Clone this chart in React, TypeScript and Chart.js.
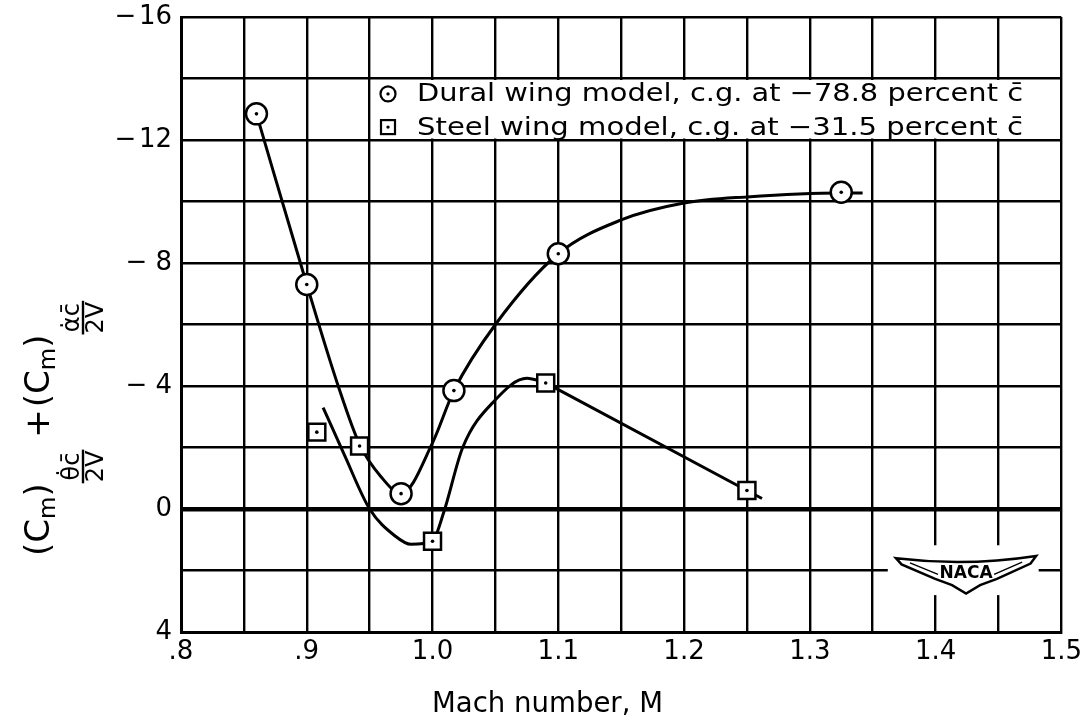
import React, { useEffect, useRef } from "react";
import { Chart, registerables } from "chart.js";

Chart.register(...registerables);

// ---- data ----
const duralMach = [0.86, 0.9, 0.975, 1.017, 1.1, 1.325];
const duralDamping = [-12.85, -7.3, -0.5, -3.85, -8.3, -10.3];

const steelMach = [0.908, 0.942, 1.0, 1.09, 1.25];
const steelDamping = [-2.5, -2.05, 1.05, -4.1, -0.6];

// faired curves as drawn in the reference
const duralFairMach = [0.86, 0.9, 0.925, 0.942, 0.959, 0.975, 1.0, 1.017, 1.05, 1.1, 1.15, 1.2, 1.25, 1.325, 1.342];
const duralFairValue = [-12.85, -7.3, -4.0, -2.1, -1.05, -0.5, -2.15, -3.85, -6.0, -8.3, -9.4, -9.95, -10.15, -10.28, -10.28];

const steelFairMach = [0.913, 0.93, 0.95, 0.97, 0.983, 1.0, 1.009, 1.024, 1.05, 1.075, 1.09];
const steelFairValue = [-3.3, -1.75, 0, 0.87, 1.15, 1.03, 0.1, -2.0, -3.55, -4.25, -4.1];

const steelLineMach = [1.09, 1.25, 1.262];
const steelLineValue = [-4.1, -0.6, -0.34];

const machTicks = [0.8, 0.9, 1.0, 1.1, 1.2, 1.3, 1.4, 1.5];
const machTickLabels = [".8", ".9", "1.0", "1.1", "1.2", "1.3", "1.4", "1.5"];
const dampTicks = [-16, -12, -8, -4, 0, 4];
const dampTickLabels = ["\u2212\u200a16", "\u2212\u200a12", "\u2212 8", "\u2212 4", "0", "4"];

const legendLabels = [
  "Dural wing model, c.g. at \u221278.8 percent c\u0304",
  "Steel wing model, c.g. at \u221231.5 percent c\u0304",
];
const xTitle = "Mach number, M";
const logoText = "NACA";

const FONT = '"DejaVu Sans", "Liberation Sans", sans-serif';

const pts = (xs: number[], ys: number[]) => xs.map((x, i) => ({ x, y: ys[i] }));

function findLabel(ticks: number[], labels: string[], v: number) {
  for (let i = 0; i < ticks.length; i++) if (Math.abs(ticks[i] - v) < 1e-6) return labels[i];
  return "";
}

const decorPlugin = {
  id: "decor",
  beforeDatasetsDraw(chart: any) {
    const { ctx, scales, chartArea } = chart;
    const xs = scales.x;
    const ys = scales.y;
    ctx.save();
    // legend box
    const bx0 = xs.getPixelForValue(0.95) + 1.3;
    const bx1 = chartArea.right - 1.5;
    const by0 = ys.getPixelForValue(-14) + 1.5;
    const by1 = ys.getPixelForValue(-12) - 1.5;
    ctx.fillStyle = "#fff";
    ctx.fillRect(bx0, by0, bx1 - bx0, by1 - by0);
    // logo white area
    const lx0 = xs.getPixelForValue(1.362);
    const lx1 = xs.getPixelForValue(1.482);
    const ly0 = ys.getPixelForValue(1.18);
    const ly1 = ys.getPixelForValue(2.8);
    ctx.fillRect(lx0, ly0, lx1 - lx0, ly1 - ly0);
    ctx.restore();
  },
  afterDraw(chart: any) {
    const { ctx, scales } = chart;
    const xs = scales.x;
    const ys = scales.y;
    ctx.save();
    ctx.fillStyle = "#000";
    ctx.strokeStyle = "#000";

    // legend rows
    const rows = [-13.5, -12.42];
    const mx = 388;
    const tx = 417;
    const target = 606;
    ctx.font = `25px ${FONT}`;
    ctx.textBaseline = "middle";
    rows.forEach((v, i) => {
      const y = ys.getPixelForValue(v);
      ctx.lineWidth = 2.2;
      if (i === 0) {
        ctx.beginPath();
        ctx.arc(mx, y, 7.5, 0, Math.PI * 2);
        ctx.stroke();
      } else {
        ctx.strokeRect(mx - 7, y - 7, 14, 14);
      }
      ctx.beginPath();
      ctx.arc(mx, y, 1.7, 0, Math.PI * 2);
      ctx.fill();
      const w = ctx.measureText(legendLabels[i]).width;
      ctx.save();
      ctx.translate(tx, y + 1);
      ctx.scale(target / w, 1);
      ctx.fillText(legendLabels[i], 0, 0);
      ctx.restore();
    });

    // NACA logo
    const L = xs.getPixelForValue(1.3685);
    const R = xs.getPixelForValue(1.48);
    const T = ys.getPixelForValue(1.5);
    const B = ys.getPixelForValue(2.75);
    const W = R - L;
    const H = B - T;
    ctx.lineWidth = 2.5;
    ctx.beginPath();
    ctx.moveTo(L, T + 0.08 * H);
    ctx.quadraticCurveTo(L + 0.5 * W, T + 0.3 * H, R, T + 0.02 * H);
    ctx.lineTo(R - 0.04 * W, T + 0.22 * H);
    ctx.lineTo(L + 0.72 * W, T + 0.62 * H);
    ctx.lineTo(L + 0.6 * W, T + 0.78 * H);
    ctx.lineTo(L + 0.5 * W, B);
    ctx.lineTo(L + 0.4 * W, T + 0.78 * H);
    ctx.lineTo(L + 0.28 * W, T + 0.62 * H);
    ctx.lineTo(L + 0.04 * W, T + 0.24 * H);
    ctx.closePath();
    ctx.stroke();
    ctx.lineWidth = 1.4;
    ctx.beginPath();
    ctx.moveTo(L + 0.1 * W, T + 0.2 * H);
    ctx.lineTo(L + 0.3 * W, T + 0.5 * H);
    ctx.moveTo(R - 0.1 * W, T + 0.18 * H);
    ctx.lineTo(R - 0.3 * W, T + 0.5 * H);
    ctx.stroke();
    ctx.font = `bold 17px ${FONT}`;
    ctx.textAlign = "center";
    ctx.textBaseline = "middle";
    ctx.fillText(logoText, L + 0.5 * W, T + 0.47 * H);

    // x title
    ctx.font = `28px ${FONT}`;
    ctx.textAlign = "left";
    ctx.textBaseline = "alphabetic";
    const xw = ctx.measureText(xTitle).width;
    ctx.save();
    ctx.translate(432, 712);
    ctx.scale(231 / xw, 1);
    ctx.fillText(xTitle, 0, 0);
    ctx.restore();

    // y title (rotated)
    ctx.save();
    ctx.translate(49, 556);
    ctx.rotate(-Math.PI / 2);
    ctx.textAlign = "left";
    ctx.textBaseline = "alphabetic";
    let x = 0;
    const big = `34px ${FONT}`;
    const sub = `23px ${FONT}`;
    const fr = `24px ${FONT}`;
    const txt = (s: string, font: string, dy: number) => {
      ctx.font = font;
      ctx.fillText(s, x, dy);
      x += ctx.measureText(s).width;
    };
    const frac = (num: string, den: string) => {
      ctx.font = fr;
      const w = Math.max(ctx.measureText(num).width, ctx.measureText(den).width) + 2;
      const bar = 34;
      ctx.textAlign = "center";
      ctx.fillText(num, x + w / 2, bar - 4);
      ctx.textBaseline = "top";
      ctx.fillText(den, x + w / 2, bar + 2);
      ctx.textBaseline = "alphabetic";
      ctx.textAlign = "left";
      ctx.fillRect(x, bar - 1.2, w, 2.4);
      x += w;
    };
    txt("(C", big, 0);
    txt("m", sub, 6);
    txt(")", big, 0);
    frac("\u03b8\u0307c\u0304", "2V");
    x += 12;
    txt("+", big, 0);
    x += 2;
    txt("(C", big, 0);
    txt("m", sub, 6);
    txt(")", big, 0);
    frac("\u03b1\u0307c\u0304", "2V");
    ctx.restore();

    ctx.restore();
  },
};

export default function App() {
  const ref = useRef<HTMLCanvasElement | null>(null);
  useEffect(() => {
    if (!ref.current) return;
    const black = "#000";
    const chart = new Chart(ref.current, {
      type: "line",
      data: {
        datasets: [
          {
            data: pts(duralFairMach, duralFairValue),
            borderColor: black,
            borderWidth: 3,
            pointRadius: 0,
            cubicInterpolationMode: "monotone",
            order: 5,
          } as any,
          {
            data: pts(steelFairMach, steelFairValue),
            borderColor: black,
            borderWidth: 3,
            pointRadius: 0,
            cubicInterpolationMode: "monotone",
            order: 5,
          },
          {
            data: pts(steelLineMach, steelLineValue),
            borderColor: black,
            borderWidth: 3,
            pointRadius: 0,
            tension: 0,
            order: 5,
          },
          {
            data: pts(duralMach, duralDamping),
            showLine: false,
            pointStyle: "circle",
            pointRadius: 10.5,
            borderWidth: 2.5,
            borderColor: black,
            backgroundColor: "#fff",
            order: 3,
          },
          {
            data: pts(steelMach, steelDamping),
            showLine: false,
            pointStyle: "rect",
            pointRadius: 12,
            borderWidth: 2.5,
            borderColor: black,
            backgroundColor: "#fff",
            order: 3,
          },
          {
            data: pts(duralMach, duralDamping),
            showLine: false,
            pointRadius: 1.8,
            borderWidth: 0,
            backgroundColor: black,
            order: 1,
          },
          {
            data: pts(steelMach, steelDamping),
            showLine: false,
            pointRadius: 1.8,
            borderWidth: 0,
            backgroundColor: black,
            order: 1,
          },
        ],
      },
      options: {
        animation: false,
        responsive: false,
        devicePixelRatio: 1,
        layout: { padding: { top: 17, right: 25, left: 0, bottom: 0 } },
        plugins: { legend: { display: false }, tooltip: { enabled: false } },
        scales: {
          x: {
            type: "linear",
            min: 0.8,
            max: 1.5,
            afterFit: (s: any) => {
              s.height = 89;
            },
            grid: { color: black, lineWidth: 2.4, drawTicks: false },
            border: { display: true, color: black, width: 3 },
            ticks: {
              stepSize: 0.05,
              autoSkip: false,
              maxRotation: 0,
              color: black,
              padding: 5,
              font: { family: FONT, size: 26 },
              callback: (v: any) => findLabel(machTicks, machTickLabels, Number(v)),
            },
          },
          y: {
            type: "linear",
            min: -16,
            max: 4,
            reverse: true,
            afterFit: (s: any) => {
              s.width = 181;
            },
            grid: {
              color: black,
              lineWidth: (c: any) => (c.tick && c.tick.value === 0 ? 4.5 : 2.4),
              drawTicks: false,
            },
            border: { display: true, color: black, width: 3 },
            ticks: {
              stepSize: 2,
              autoSkip: false,
              color: black,
              padding: 9,
              font: { family: FONT, size: 26, lineHeight: 0.6 },
              callback: (v: any) => findLabel(dampTicks, dampTickLabels, Number(v)),
            },
          },
        },
      },
      plugins: [decorPlugin],
    });
    return () => chart.destroy();
  }, []);
  return (
    <div style={{ position: "fixed", left: 0, top: 0, width: 1087, height: 721, background: "#fff" }}>
      <canvas ref={ref} width={1087} height={721} style={{ display: "block" }} />
    </div>
  );
}
